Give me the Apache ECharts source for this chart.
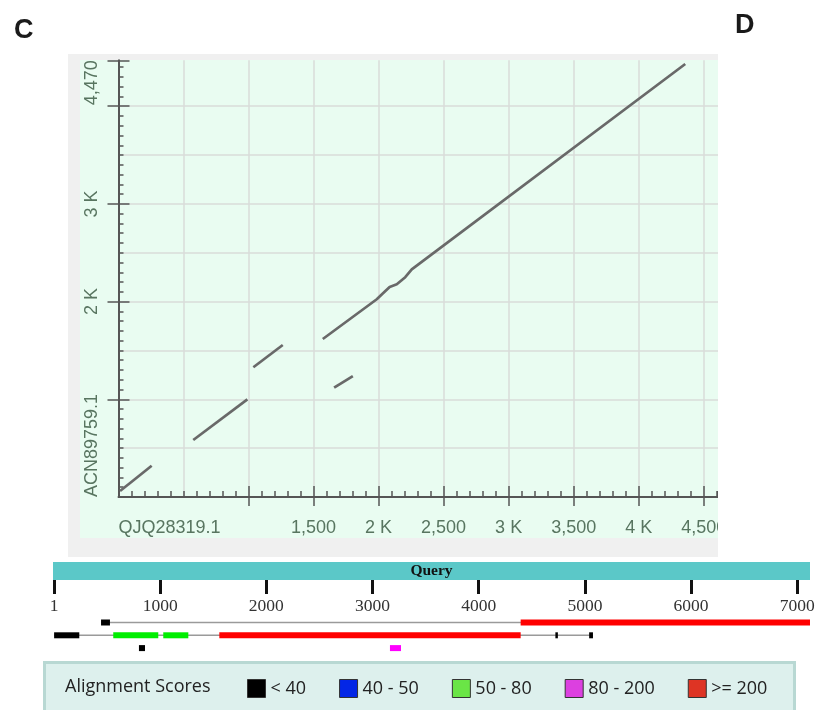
<!DOCTYPE html>
<html>
<head>
<meta charset="utf-8">
<script src="https://cdn.jsdelivr.net/npm/echarts@6/dist/echarts.min.js"></script>
<style>
  html, body { margin: 0; padding: 0; background: #fff; }
  #page { position: absolute; left: 0; top: 0; width: 815px; height: 710px; }
  #dot { position: absolute; left: 68px; top: 54px; width: 650px; height: 503px; }
</style>
</head>
<body>
<div id="page"></div>
<div id="dot"></div>
<script>
"use strict";

// dot plot: [QJQ28319.1 position, ACN89759.1 position]
var seg1 = [[12, 61], [255, 320]];
var seg2 = [[575, 583], [991, 1000]];
var seg3 = [[1037, 1328], [1263, 1556]];
var seg4 = [[1571, 1617], [1986, 2024], [2030, 2080], [2085, 2150], [2140, 2178],
            [2205, 2250], [2255, 2330], [4358, 4432]];
var seg5 = [[1658, 1119], [1802, 1238]];

var xMax = 4610;
var yMax = 4470;
var xLabels = {0: 'QJQ28319.1', 1500: '1,500', 2000: '2 K', 2500: '2,500', 3000: '3 K',
               3500: '3,500', 4000: '4 K', 4500: '4,500'};
var yLabels = {0: 'ACN89759.1', 2000: '2 K', 3000: '3 K', 4470: '4,470'};
var xMajor = [1000, 1500, 2000, 2500, 3000, 3500, 4000, 4500];
var yMajor = [1000, 2000, 3000, 4000, 4470];

// graphic overview: query length and hits [start, end, row]
var queryLen = 7120;
var queryTicks = [0, 1000, 2000, 3000, 4000, 5000, 6000, 7000];
var connectors = [[443, 7120, 1], [1, 5076, 2]];
var hitsBelow40 = [[443, 527, 1], [1, 238, 2], [4722, 4734, 2], [5040, 5076, 2], [800, 857, 3]];
var hits40to50 = [];
var hits50to80 = [[558, 982, 2], [1029, 1265, 2]];
var hits80to200 = [[3164, 3268, 3]];
var hitsAbove200 = [[4395, 7120, 1], [1557, 4395, 2]];

var scoreNames = ['< 40', '40 - 50', '50 - 80', '80 - 200', '>= 200'];
var barColors = ['#000000', '#0000ff', '#00ee00', '#ff00ff', '#ff0000'];
var keyColors = ['#000000', '#0326e6', '#6ae546', '#dc40e0', '#de3424'];

var labelColor = '#587560';
var sans = '"Liberation Sans", Arial, sans-serif';
var keyFont = '"Open Sans", sans-serif';

// ---------- dot plot ----------
var dot = echarts.init(document.getElementById('dot'));

function xAxisBase(extra) {
    var a = {
        type: 'value', min: 0, max: xMax, position: 'bottom', offset: 11,
        axisLine: {show: false}, axisTick: {show: false}, axisLabel: {show: false},
        splitLine: {show: false}
    };
    return Object.assign(a, extra);
}
function yAxisBase(extra) {
    var a = {
        type: 'value', min: 0, max: yMax, position: 'left', offset: 9.5,
        axisLine: {show: false}, axisTick: {show: false}, axisLabel: {show: false},
        splitLine: {show: false}
    };
    return Object.assign(a, extra);
}

dot.setOption({
    backgroundColor: 'transparent',
    animation: false,
    grid: {left: 50.5, right: 0, top: 6.3, bottom: 60, containLabel: false, outerBoundsMode: 'none'},
    xAxis: [
        xAxisBase({
            interval: 100,
            axisLine: {show: true, lineStyle: {color: '#555', width: 2}},
            axisTick: {show: true, inside: true, length: 6, lineStyle: {color: '#555', width: 1.5}}
        }),
        xAxisBase({
            interval: 500,
            axisTick: {show: true, inside: true, length: 11, customValues: xMajor,
                       lineStyle: {color: '#555', width: 1.5}},
            axisLabel: {
                show: true, margin: 11, color: labelColor, fontSize: 18, fontFamily: sans,
                showMinLabel: true, alignMinLabel: 'left',
                formatter: function (v) { return xLabels[v] || ''; }
            }
        }),
        xAxisBase({
            interval: 500,
            axisTick: {show: true, inside: false, length: 9, customValues: xMajor,
                       lineStyle: {color: '#555', width: 1.5}}
        }),
        xAxisBase({
            interval: 500, offset: 0,
            splitLine: {show: true, showMinLine: false, showMaxLine: false,
                        lineStyle: {color: '#d9dcd9', width: 1.5}}
        })
    ],
    yAxis: [
        yAxisBase({
            interval: 100,
            axisLine: {show: true, lineStyle: {color: '#555', width: 2}},
            axisTick: {show: true, inside: true, length: 5, lineStyle: {color: '#555', width: 1.5}}
        }),
        yAxisBase({
            interval: 1000,
            axisTick: {show: true, inside: true, length: 11, customValues: yMajor,
                       lineStyle: {color: '#555', width: 1.5}},
            axisLabel: {
                show: true, rotate: 90, margin: 8, color: labelColor, fontSize: 18, fontFamily: sans,
                showMinLabel: true, showMaxLabel: true, alignMinLabel: 'left', alignMaxLabel: 'right',
                formatter: function (v) { return yLabels[v] || ''; }
            }
        }),
        yAxisBase({
            interval: 1000,
            axisTick: {show: true, inside: false, length: 11, customValues: yMajor,
                       lineStyle: {color: '#555', width: 1.5}}
        }),
        yAxisBase({
            interval: 500, offset: 0,
            splitLine: {show: true, showMinLine: false, showMaxLine: false,
                        lineStyle: {color: '#d9dcd9', width: 1.5}}
        })
    ],
    series: [seg1, seg2, seg3, seg4, seg5].map(function (seg) {
        return {
            type: 'line', xAxisIndex: 0, yAxisIndex: 0, data: seg,
            showSymbol: false, symbol: 'none', silent: true,
            lineStyle: {color: '#696969', width: 2.7}
        };
    })
});

// ---------- page: frame, graphic overview, key ----------
var page = echarts.init(document.getElementById('page'));

function hitItem(params, api) {
    var p0 = api.coord([api.value(0), api.value(2)]);
    var p1 = api.coord([api.value(1), api.value(2)]);
    var h = 6;
    return {
        type: 'rect',
        shape: {x: p0[0], y: p0[1] - h / 2, width: Math.max(p1[0] - p0[0], 2.5), height: h},
        style: {fill: api.visual('color')}
    };
}

function linkItem(params, api) {
    var p0 = api.coord([api.value(0), api.value(2)]);
    var p1 = api.coord([api.value(1), api.value(2)]);
    return {
        type: 'line',
        shape: {x1: p0[0], y1: p0[1], x2: p1[0], y2: p1[1]},
        style: {stroke: '#9a9a9a', lineWidth: 1.5}
    };
}

function queryItem(params, api) {
    var p0 = api.coord([api.value(0), 1]);
    var p1 = api.coord([api.value(1), 0]);
    return {
        type: 'rect',
        shape: {x: p0[0] - 1, y: p0[1], width: p1[0] - p0[0] + 1, height: p1[1] - p0[1]},
        style: {fill: '#5bc8c8'},
        textContent: {
            type: 'text',
            style: {text: 'Query', font: 'bold 15.5px "Liberation Serif", serif', fill: '#111'}
        },
        textConfig: {position: 'inside'}
    };
}

var hitSets = [hitsBelow40, hits40to50, hits50to80, hits80to200, hitsAbove200];

var pageSeries = [
    {type: 'custom', xAxisIndex: 0, yAxisIndex: 0, data: [[0, queryLen]],
     renderItem: queryItem, silent: true},
    {type: 'custom', xAxisIndex: 1, yAxisIndex: 1, data: connectors,
     renderItem: linkItem, silent: true, z: 1}
];
hitSets.forEach(function (set, i) {
    pageSeries.push({
        type: 'custom', name: scoreNames[i], xAxisIndex: 1, yAxisIndex: 1, data: set,
        renderItem: hitItem, silent: true, z: 3,
        itemStyle: {color: barColors[i]}
    });
});

page.setOption({
    backgroundColor: '#ffffff',
    animation: false,
    title: [
        {text: 'C', left: 14, top: 17, padding: 0,
         textStyle: {fontSize: 27, fontWeight: 'bold', color: '#1a1a1a', fontFamily: sans}},
        {text: 'D', left: 735, top: 12, padding: 0,
         textStyle: {fontSize: 27, fontWeight: 'bold', color: '#1a1a1a', fontFamily: sans}},
        {text: 'Alignment Scores', left: 65, top: 678, padding: 0,
         textStyle: {fontSize: 18, fontWeight: 'normal', color: '#222', fontFamily: keyFont}}
    ],
    graphic: [
        {type: 'rect', left: 68, top: 54, shape: {width: 650, height: 503}, style: {fill: '#f0f0f0'}, z: -10},
        {type: 'rect', left: 80, top: 60, shape: {width: 638, height: 478}, style: {fill: '#e9fcf1'}, z: -9},
        {type: 'rect', left: 43, top: 661, shape: {width: 750, height: 52},
         style: {fill: '#ddf0ed', stroke: '#b8d8d3', lineWidth: 3}, z: -9}
    ],
    legend: {
        left: 247, top: 679, padding: 0, itemWidth: 18, itemHeight: 18, itemGap: 33,
        icon: 'rect', selectedMode: false,
        itemStyle: {borderColor: '#333', borderWidth: 1},
        textStyle: {fontSize: 18, color: '#222', fontFamily: keyFont},
        data: scoreNames.map(function (n, i) {
            return {name: n, itemStyle: {color: keyColors[i]}};
        })
    },
    grid: [
        {left: 54, right: 5, top: 562, height: 18, containLabel: false, outerBoundsMode: 'none'},
        {left: 54, right: 5, top: 54.7 + 555, height: 51.2, containLabel: false, outerBoundsMode: 'none'}
    ],
    xAxis: [
        {
            type: 'value', gridIndex: 0, min: 0, max: queryLen, interval: 1000, position: 'bottom',
            axisLine: {show: false},
            axisTick: {show: true, length: 14, customValues: queryTicks,
                       lineStyle: {color: '#111', width: 3}},
            axisLabel: {show: true, margin: 17, customValues: queryTicks, color: '#333',
                        fontSize: 17.5, fontFamily: '"Liberation Serif", serif',
                        formatter: function (v) { return v === 0 ? '1' : String(v); }},
            splitLine: {show: false}
        },
        {
            type: 'value', gridIndex: 1, min: 0, max: queryLen, show: false,
            splitLine: {show: false}
        }
    ],
    yAxis: [
        {type: 'value', gridIndex: 0, min: 0, max: 1, show: false, splitLine: {show: false}},
        {type: 'value', gridIndex: 1, min: 0, max: 4, inverse: true, show: false, splitLine: {show: false}}
    ],
    series: pageSeries
});
</script>
</body>
</html>
